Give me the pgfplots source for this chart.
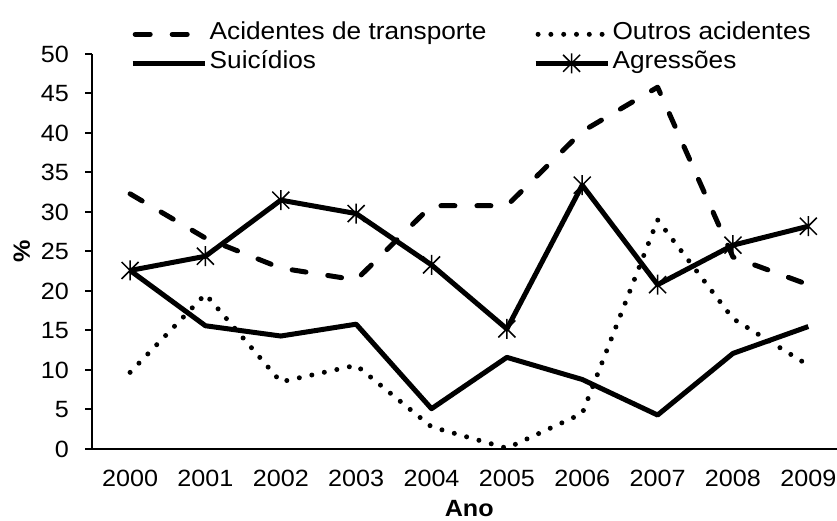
\documentclass[border=0pt]{standalone}
\usepackage{fontspec}
\setmainfont{Liberation Sans}[FakeStretch=1.07]
\usepackage{pgfplots}
\usepackage{pgfplotstable}
\pgfplotsset{compat=1.18}
\pgfplotsset{
 dashleg/.style={legend image code/.code={\draw[##1, dash pattern=on 15bp off 22bp] (2.5bp,0bp) -- (55bp,0bp); \path (72bp,0bp);}},
 dotleg/.style={legend image code/.code={\draw[##1] (2.5bp,0bp) -- (70bp,0bp); \path (72bp,0bp);}},
}
\pgfdeclareplotmark{xstar}{%
 \pgfpathmoveto{\pgfqpoint{0pt}{\pgfplotmarksize}}%
 \pgfpathlineto{\pgfqpoint{0pt}{-\pgfplotmarksize}}%
 \pgfpathmoveto{\pgfqpoint{-0.85\pgfplotmarksize}{0.85\pgfplotmarksize}}%
 \pgfpathlineto{\pgfqpoint{0.85\pgfplotmarksize}{-0.85\pgfplotmarksize}}%
 \pgfpathmoveto{\pgfqpoint{-0.85\pgfplotmarksize}{-0.85\pgfplotmarksize}}%
 \pgfpathlineto{\pgfqpoint{0.85\pgfplotmarksize}{0.85\pgfplotmarksize}}%
 \pgfusepathqstroke}
\pgfplotstableread{
x acid outros suic agr
0 32.3 9.7 22.6 22.6
1 26.7 19.6 15.6 24.4
2 22.9 8.5 14.3 31.5
3 21.4 10.6 15.8 29.8
4 30.8 2.8 5.1 23.3
5 30.8 0.1 11.6 15.2
6 40.2 4.5 8.8 33.4
7 45.8 29.0 4.3 20.8
8 24.3 16.5 12.1 25.8
9 20.8 10.6 15.5 28.2
}\data
\begin{document}
\begin{tikzpicture}
\path[use as bounding box] (0,0) rectangle (837bp,521bp);
\begin{axis}[
 at={(92.4bp,72bp)}, anchor=south west, scale only axis,
 width=753.6bp, height=395bp,
 xmin=-0.5, xmax=9.5, ymin=0, ymax=50,
 xtick={0,1,2,3,4,5,6,7,8,9},
 xticklabels={2000,2001,2002,2003,2004,2005,2006,2007,2008,2009},
 ytick={0,5,10,15,20,25,30,35,40,45,50},
 axis x line*=bottom, axis y line*=left,
 axis line style={line width=2bp},
 x tick style={draw=none},
 y tick style={line width=2bp, black},
 tick align=outside, major tick length=7bp,
 ticklabel style={font=\fontsize{23.5bp}{27bp}\selectfont},
 yticklabel style={xshift=-13bp},
 xticklabel style={yshift=-11bp},
 /pgf/number format/assume math mode=true,
 xlabel={Ano}, ylabel={\%},
 label style={font=\fontsize{23.5bp}{27bp}\selectfont\bfseries},
 xlabel style={yshift=-6bp},
 ylabel style={yshift=4bp},
 legend columns=2,
 legend cell align=left,
 legend style={at={(0.0499,1.087)}, anchor=north west, draw=none, fill=none,
   inner sep=0pt, row sep=0pt,
   font=\fontsize{24.5bp}{29bp}\selectfont,
   nodes={inner xsep=2.5bp, inner ysep=3bp, text height=17bp, text depth=6bp},
   /tikz/every even column/.append style={column sep=44bp}},
 legend image code/.code={\draw[mark repeat=2,mark phase=2,#1] plot coordinates {(0bp,0bp) (36bp,0bp) (72bp,0bp)};},
]
\addplot[black, line width=5bp, dash pattern=on 14bp off 22bp, line cap=round, line join=round, dashleg] table[x=x,y=acid]{\data};
\addlegendentry{Acidentes de transporte}
\addplot[black, line width=5bp, dash pattern=on 0bp off 12.8bp, line cap=round, line join=round, dotleg] table[x=x,y=outros]{\data};
\addlegendentry{Outros acidentes}
\addplot[black, line width=5bp, line join=round] table[x=x,y=suic]{\data};
\addlegendentry{Suicídios}
\addplot[black, line width=5bp, line join=round, mark=xstar, mark size=10bp, mark options={solid, line width=1.5bp}] table[x=x,y=agr]{\data};
\addlegendentry{Agressões}
\end{axis}
\end{tikzpicture}
\end{document}
